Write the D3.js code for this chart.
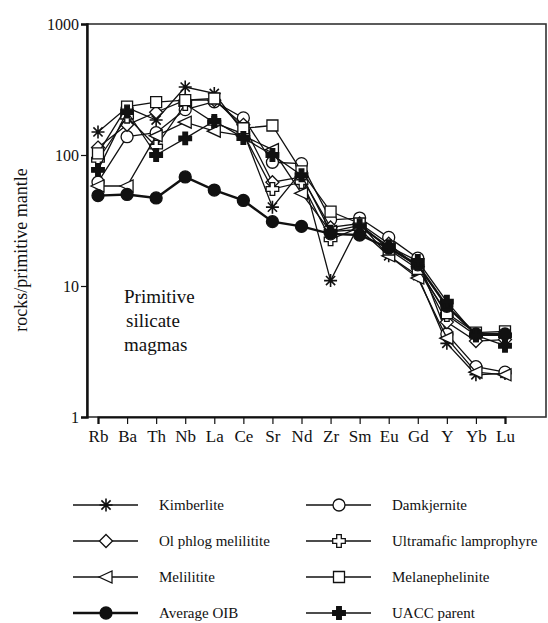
<!DOCTYPE html>
<html>
<head>
<meta charset="utf-8">
<script src="https://cdn.jsdelivr.net/npm/d3@7"></script>
<style>
  html, body { margin: 0; padding: 0; background: #fff; }
  svg { display: block; }
  svg text { font-family: "Liberation Serif", "Times New Roman", serif !important; }
</style>
</head>
<body>
<svg id="chart" width="548" height="623"></svg>
<script>
// Trace elements, primitive-mantle normalised
const categories = ["Rb", "Ba", "Th", "Nb", "La", "Ce", "Sr", "Nd", "Zr", "Sm", "Eu", "Gd", "Y", "Yb", "Lu"];
const yTicks = [1, 10, 100, 1000];

const kimberlite            = [150, 230, 185, 330, 295, 150, 40, 75, 11, 30, 17, 12, 3.65, 2.1, 2.15];
const damkjernite           = [62, 138, 148, 222, 255, 192, 88, 86, 32, 33, 23.5, 16.3, 4.3, 2.42, 2.2];
const olPhlogMelilitite     = [114, 170, 212, 262, 262, 170, 62, 68, 28, 30, 21, 14, 5.3, 3.8, 3.9];
const ultramaficLamprophyre = [92, 196, 116, 245, 176, 145, 55, 62, 22.7, 28, 20, 14, 6, 4.2, 4.2];
const melilitite            = [58, 58, 140, 178, 152, 140, 110, 51, 26, 27, 17, 11.5, 4, 2.2, 2.1];
const melanephelinite       = [103, 234, 253, 262, 270, 160, 168, 75, 37, 30, 19, 13.5, 6.2, 4.4, 4.5];
const averageOIB            = [49, 50, 47, 68, 54, 45, 31, 28.5, 25, 24.5, 19.5, 14.5, 7, 4.3, 4.3];
const uaccParent            = [77, 215, 100, 134, 182, 135, 100, 70, 26, 29, 20, 15.5, 7.6, 4.2, 3.5];

const seriesValues = [kimberlite, damkjernite, olPhlogMelilitite, ultramaficLamprophyre,
                      melilitite, melanephelinite, averageOIB, uaccParent];
const seriesMarkers = ["asterisk", "circle", "diamond", "cross", "triangle", "square", "dot", "filledCross"];

const svg = d3.select("#chart");
const frame = { left: 87, right: 546, top: 24, bottom: 417 };
const serif = "'Liberation Serif', 'Times New Roman', serif";

const x = d3.scalePoint().domain(categories).range([98, 505]);
const y = d3.scaleLog().domain([1, 1000]).range([frame.bottom, frame.top]);

// marker shapes, centred on the origin
function markerPath(kind) {
  const p = d3.path();
  switch (kind) {
    case "circle":
    case "dot":
      p.arc(0, 0, 6, 0, 2 * Math.PI); break;
    case "diamond":
      p.moveTo(0, -6.5); p.lineTo(6.5, 0); p.lineTo(0, 6.5); p.lineTo(-6.5, 0); p.closePath(); break;
    case "square":
      p.rect(-5.5, -5.5, 11, 11); break;
    case "triangle":
      p.moveTo(-7, 0); p.lineTo(6, -6); p.lineTo(6, 6); p.closePath(); break;
    case "cross":
    case "filledCross": {
      const a = 2.3, b = 6.3;
      p.moveTo(-a, -b); p.lineTo(a, -b); p.lineTo(a, -a); p.lineTo(b, -a); p.lineTo(b, a);
      p.lineTo(a, a); p.lineTo(a, b); p.lineTo(-a, b); p.lineTo(-a, a); p.lineTo(-b, a);
      p.lineTo(-b, -a); p.lineTo(-a, -a); p.closePath(); break;
    }
    case "asterisk": {
      const r = 6.5;
      for (let k = 0; k < 4; k++) {
        const ang = k * Math.PI / 4;
        p.moveTo(-r * Math.sin(ang), -r * Math.cos(ang));
        p.lineTo(r * Math.sin(ang), r * Math.cos(ang));
      }
      break;
    }
  }
  return p.toString();
}

function drawMarker(g, kind, cx, cy) {
  const filled = kind === "dot" || kind === "filledCross";
  g.append("path")
    .attr("d", markerPath(kind))
    .attr("transform", `translate(${cx},${cy})`)
    .attr("fill", kind === "asterisk" ? "none" : (filled ? "#111" : "#fff"))
    .attr("stroke", "#111")
    .attr("stroke-width", kind === "asterisk" ? 1.6 : 1.3);
}

// frame
svg.append("rect")
  .attr("x", frame.left).attr("y", frame.top)
  .attr("width", frame.right - frame.left).attr("height", frame.bottom - frame.top)
  .attr("fill", "none").attr("stroke", "#333").attr("stroke-width", 1.6);

// y axis
const yAxis = svg.append("g")
  .attr("transform", `translate(${frame.left},0)`)
  .call(d3.axisLeft(y).tickValues(yTicks).tickFormat(d3.format("d")).tickSize(6).tickPadding(2));
yAxis.attr("font-family", serif);
yAxis.select(".domain").attr("stroke", "#111").attr("stroke-width", 2.4);
yAxis.selectAll(".tick line").attr("stroke", "#111").attr("stroke-width", 1.2);
yAxis.selectAll(".tick text").attr("font-size", 16).attr("fill", "#111").style("font-family", serif);

// x axis
const xAxis = svg.append("g")
  .attr("transform", `translate(0,${frame.bottom})`)
  .call(d3.axisBottom(x).tickSize(7).tickPadding(6));
xAxis.attr("font-family", serif);
xAxis.select(".domain").attr("stroke", "#111").attr("stroke-width", 2.2);
xAxis.selectAll(".tick line").attr("stroke", "#111").attr("stroke-width", 1.2);
xAxis.selectAll(".tick text").attr("font-size", 17).attr("fill", "#111").style("font-family", serif);

// y axis title
svg.append("text")
  .attr("transform", "translate(27,250) rotate(-90)")
  .attr("text-anchor", "middle")
  .attr("font-size", 18).attr("fill", "#111")
  .style("font-family", serif)
  .text("rocks/primitive mantle");

// annotation
const note = svg.append("text").attr("font-size", 19).attr("fill", "#111").style("font-family", serif);
["Primitive", "silicate", "magmas"].forEach((t, i) => {
  note.append("tspan").attr("x", i === 1 ? 126 : 124).attr("y", 303 + i * 24).text(t);
});

// series lines and markers
const line = d3.line().x((d, i) => x(categories[i])).y(d => y(d));
const plot = svg.append("g");
seriesValues.forEach((vals, s) => {
  const g = plot.append("g");
  g.append("path")
    .attr("d", line(vals))
    .attr("fill", "none")
    .attr("stroke", "#111")
    .attr("stroke-width", seriesMarkers[s] === "dot" ? 2.4 : 1.3);
  vals.forEach((v, i) => drawMarker(g, seriesMarkers[s], x(categories[i]), y(v)));
});

// legend
const legendOrder = [
  ["Kimberlite", "asterisk", 0, 0], ["Damkjernite", "circle", 1, 0],
  ["Ol phlog melilitite", "diamond", 0, 1], ["Ultramafic lamprophyre", "cross", 1, 1],
  ["Melilitite", "triangle", 0, 2], ["Melanephelinite", "square", 1, 2],
  ["Average OIB", "dot", 0, 3], ["UACC parent", "filledCross", 1, 3]
];
const colX = [73, 306];
const rowY = [505, 541, 577, 613];
const legend = svg.append("g");
legendOrder.forEach(([name, kind, c, r]) => {
  const g = legend.append("g");
  const x0 = colX[c], yy = rowY[r];
  g.append("line").attr("x1", x0).attr("x2", x0 + 65).attr("y1", yy).attr("y2", yy)
    .attr("stroke", "#111").attr("stroke-width", kind === "dot" ? 2.4 : 1.3);
  drawMarker(g, kind, x0 + 33, yy);
  g.append("text").attr("x", x0 + 86).attr("y", yy + 5)
    .attr("font-size", 15).attr("fill", "#111").style("font-family", serif).text(name);
});
</script>
</body>
</html>
